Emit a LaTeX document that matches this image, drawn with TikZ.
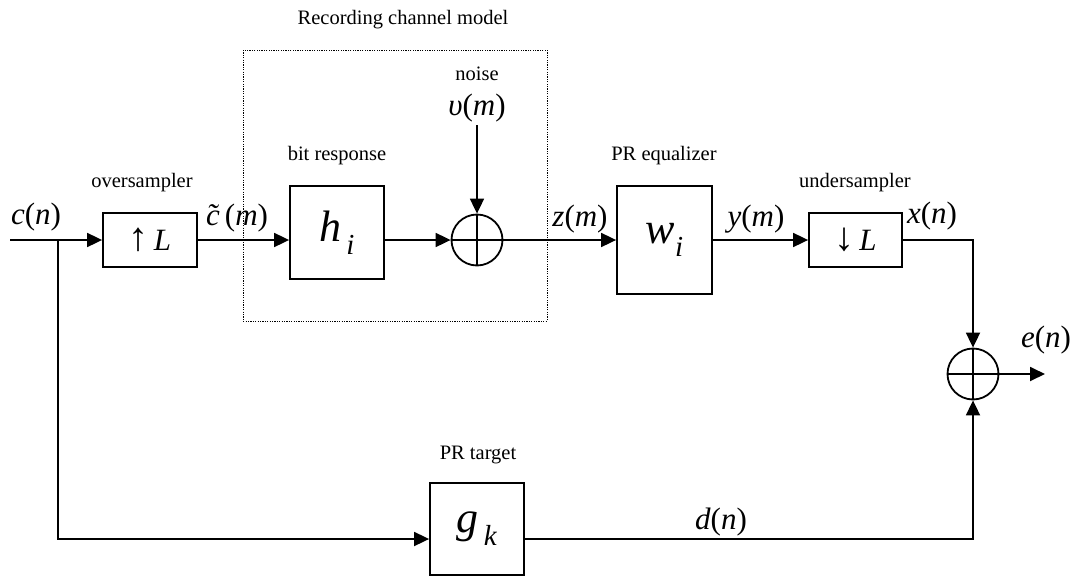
\documentclass[tikz,border=0pt]{standalone}
\usepackage{fontspec}
\setmainfont{Liberation Serif}
\usetikzlibrary{arrows.meta}
% c with a tilde set over it
\newcommand\ctilde{\ooalign{\textit{c}\cr\hidewidth\textit{˜}\hidewidth\cr}}

\begin{document}
\begin{tikzpicture}[x=1pt,y=-1pt,
  wire/.style={line width=1.8pt},
  arr/.style={wire,-{Triangle[length=15pt,width=14pt]}},
  blockbox/.style={draw,line width=1.8pt,inner sep=0pt},
  sumnode/.style={circle,draw,line width=1.8pt,minimum size=51pt,inner sep=0pt,
    path picture={\draw[line width=1.8pt]
      (path picture bounding box.north) -- (path picture bounding box.south)
      (path picture bounding box.west) -- (path picture bounding box.east);}},
  caption/.style={font=\fontsize{20.5}{24}\selectfont},
  sig/.style={font=\fontsize{31}{34}\selectfont},
  sym/.style={font=\fontsize{44}{48}\selectfont},
  rate/.style={font=\fontsize{31}{34}\selectfont}
]
\useasboundingbox (0,0) rectangle (1077,576);

% dotted frame of the recording channel
\draw[line width=1pt,dash pattern=on 1.2pt off 1.2pt] (243,50) rectangle (547,321);
\node[caption] (rcm) at (403,20) {Recording channel model};

% blocks
\node[blockbox,rate,minimum width=94pt,minimum height=54pt] (up) at (150,240)
  {{\fontsize{40}{40}\selectfont ↑}\,\textit{L}};
\node[blockbox,sym,minimum width=94pt,minimum height=93pt] (hb) at (337,232.5)
  {\textit{h}\raisebox{-0.3em}{\fontsize{29}{30}\selectfont\,\textit{i}}};
\node[sumnode] (s1) at (477,240) {};
\node[blockbox,sym,minimum width=95pt,minimum height=108pt] (wb) at (664.5,240)
  {\textit{w}\raisebox{-0.3em}{\fontsize{29}{30}\selectfont\textit{i}}};
\node[blockbox,rate,minimum width=93pt,minimum height=54pt] (db) at (855.5,240)
  {{\fontsize{40}{40}\selectfont ↓}\,\textit{L}};
\node[sumnode] (s2) at (973,374) {};
\node[blockbox,sym,minimum width=94pt,minimum height=92pt] (gb) at (477,529)
  {\textit{g}\raisebox{-0.3em}{\fontsize{29}{30}\selectfont\,\textit{k}}};

% block captions
\node[caption] (cos) at (142,183) {oversampler};
\node[caption] (cbr) at (337,156) {bit response};
\node[caption] (cno) at (477,74) {noise};
\node[caption] (ceq) at (664,156) {PR equalizer};
\node[caption] (cus) at (855,183) {undersampler};
\node[caption] (ctg) at (478,455) {PR target};

% signal names
\node[sig] (lc) at (36,217) {\textit{c}(\textit{n})};
\node[sig] (lct) at (237,218) {\ctilde\,(\textit{m})};
\node[sig] (lv) at (477,108) {\textit{υ}(\textit{m})};
\node[sig] (lz) at (580,219) {\textit{z}(\textit{m})};
\node[sig] (ly) at (756,219) {\textit{y}(\textit{m})};
\node[sig] (lx) at (932,216) {\textit{x}(\textit{n})};
\node[sig] (le) at (1046,340) {\textit{e}(\textit{n})};
\node[sig] (ld) at (721,522) {\textit{d}(\textit{n})};

% free ends and corners
\coordinate (in) at (10,240);
\coordinate (split) at (58,240);
\coordinate (nz) at (477,125);
\coordinate (out) at (1045,374);
\coordinate (gy) at (0,539);

% connectors
\draw[arr] (in) -- (up);
\draw[arr] (up) -- (hb.west |- up);
\draw[arr] (hb.east |- up) -- (s1);
\draw[arr] (nz) -- (s1);
\draw[arr] (s1) -- (wb);
\draw[arr] (wb) -- (db);
\draw[arr] (db.east) -| (s2);
\draw[arr] (s2) -- (out);
\draw[arr] (split) |- (gb.west |- gy);
\draw[arr] (gb.east |- gy) -| (s2);
\end{tikzpicture}
\end{document}
